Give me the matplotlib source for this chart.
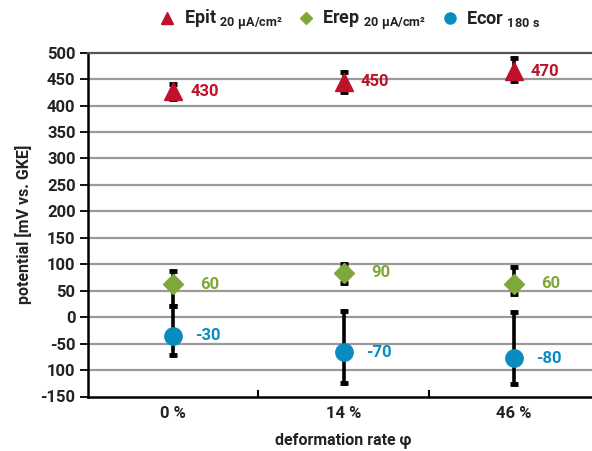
import numpy as np
import matplotlib
matplotlib.use('Agg')
import matplotlib.pyplot as plt
from matplotlib.lines import Line2D

plt.rcParams['font.family'] = ['Roboto', 'DejaVu Sans']
plt.rcParams['mathtext.fontset'] = 'custom'
plt.rcParams['mathtext.rm'] = 'Roboto:bold'
plt.rcParams['mathtext.it'] = 'Roboto:bold'
plt.rcParams['mathtext.bf'] = 'Roboto:bold'

# categories and values
categories = ['0 %', '14 %', '46 %']

epit = [427, 445, 465]
epit_err_low = [15, 19, 18]
epit_err_high = [14, 19, 25]
epit_labels = ['430', '450', '470']

erep = [62, 84, 63]
erep_err_low = [41, 19, 19]
erep_err_high = [25, 17, 32]
erep_labels = ['60', '90', '60']

ecor = [-35, -66, -78]
ecor_err_low = [36, 59, 48]
ecor_err_high = [56, 78, 88]
ecor_labels = ['-30', '-70', '-80']

yticks = [500, 450, 400, 350, 300, 250, 200, 150, 100, 50, 0, -50, -100, -150]
ytick_labels = ['500', '450', '400', '350', '300', '250', '200', '150', '100', '50',
                '0', '-50', '100', '-150']

red = '#c0112b'
green = '#7ea83a'
blue = '#0b8cc0'

fig = plt.figure(figsize=(5.92, 4.51), dpi=100)
ax = fig.add_axes([88 / 592, 1 - 396.5 / 451, 511 / 592, (396.5 - 52.7) / 451])

x = np.arange(len(categories))

# horizontal grid
for yv in yticks[1:-1]:
    ax.axhline(yv, color='#9a9a9a', lw=1.6, zorder=0)

err_kw = dict(fmt='none', ecolor='black', elinewidth=2.6, capsize=3, capthick=3.5, zorder=2)
ax.errorbar(x, erep, yerr=[erep_err_low, erep_err_high], **err_kw)
ax.errorbar(x, ecor, yerr=[ecor_err_low, ecor_err_high], **err_kw)
ax.errorbar(x, epit, yerr=[epit_err_low, epit_err_high], **err_kw)

ax.plot(x, epit, ls='none', marker='^', ms=13, color=red, zorder=3)
ax.plot(x, erep, ls='none', marker='D', ms=10.5, color=green, zorder=3)
ax.plot(x, ecor, ls='none', marker='o', ms=12.5, color=blue, zorder=3)

for i in range(len(categories)):
    ax.text(x[i] + 0.10, epit[i], epit_labels[i], color=red, fontsize=12,
            fontweight='bold', va='center', ha='left')
    ax.text(x[i] + 0.16, erep[i], erep_labels[i], color=green, fontsize=12,
            fontweight='bold', va='center', ha='left')
    ax.text(x[i] + 0.13, ecor[i], ecor_labels[i], color=blue, fontsize=12,
            fontweight='bold', va='center', ha='left')

ax.set_xlim(-0.5, 2.5)
ax.set_ylim(-150, 500)
ax.set_yticks(yticks)
ax.set_yticklabels(ytick_labels)
ax.set_xticks([0.5, 1.5])
ax.set_xticklabels([])
ax.set_xticks(x, minor=True)
ax.set_xticklabels(categories, minor=True)
ax.tick_params(axis='x', which='minor', length=0, pad=7)
ax.tick_params(axis='x', which='major', length=5, width=1.5, direction='in')
ax.tick_params(axis='y', length=6, width=1.3, pad=3)
for lab in ax.get_yticklabels() + ax.get_xticklabels(minor=True):
    lab.set_fontsize(12)
    lab.set_fontweight('bold')
    lab.set_color('#222222')

ax.spines['left'].set_linewidth(1.8)
ax.spines['bottom'].set_linewidth(1.8)
ax.spines['top'].set_color('#555555')
ax.spines['top'].set_linewidth(1.6)
ax.spines['right'].set_visible(False)

ax.set_ylabel('potential [mV vs. GKE]', fontsize=11.5, fontweight='bold', color='#222222', labelpad=6)
ax.set_xlabel('deformation rate φ', fontsize=11.5, fontweight='bold', color='#222222', labelpad=8)

handles = [
    Line2D([], [], ls='none', marker='^', ms=9, color=red),
    Line2D([], [], ls='none', marker='D', ms=6, color=green),
    Line2D([], [], ls='none', marker='o', ms=8, color=blue),
]
labels = [r'Epit $_{\mathrm{20\ µA/cm²}}$', r'Erep $_{\mathrm{20\ µA/cm²}}$', r'Ecor $_{\mathrm{180\ s}}$']
leg = fig.legend(handles, labels, loc='center', bbox_to_anchor=(0.59, 0.955), ncol=3,
                 frameon=False, handlelength=1.0, handletextpad=0.4,
                 columnspacing=0.8, prop={'weight': 'bold', 'size': 13})
for t in leg.get_texts():
    t.set_color('#222222')

fig.savefig('out.png', dpi=100)
